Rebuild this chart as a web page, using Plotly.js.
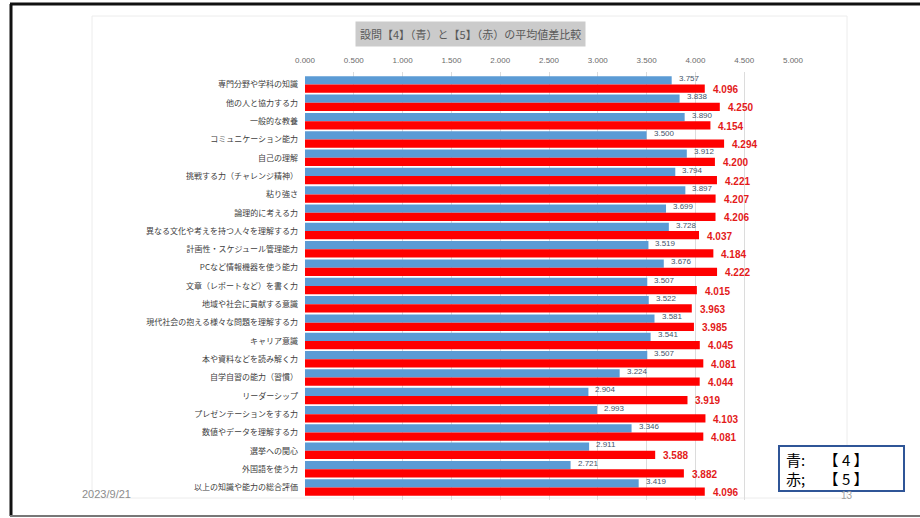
<!DOCTYPE html>
<html><head><meta charset="utf-8">
<script src="https://cdn.plot.ly/plotly-3.0.1.min.js"></script>
<style>html,body{margin:0;padding:0;background:#fff;}#c{width:920px;height:518px;}</style>
</head><body><div id="c"></div>
<script>
const categories = [
 "専門分野や学科の知識","他の人と協力する力","一般的な教養","コミュニケーション能力","自己の理解",
 "挑戦する力（チャレンジ精神）","粘り強さ","論理的に考える力","異なる文化や考えを持つ人々を理解する力",
 "計画性・スケジュール管理能力","PCなど情報機器を使う能力","文章（レポートなど）を書く力",
 "地域や社会に貢献する意識","現代社会の抱える様々な問題を理解する力","キャリア意識",
 "本や資料などを読み解く力","自学自習の能力（習慣）","リーダーシップ","プレゼンテーションをする力",
 "数値やデータを理解する力","選挙への関心","外国語を使う力","以上の知識や能力の総合評価"];
const blueQ4 = [3.757,3.838,3.890,3.500,3.912,3.794,3.897,3.699,3.728,3.519,3.676,3.507,3.522,3.581,3.541,3.507,3.224,2.904,2.993,3.346,2.911,2.721,3.419];
const redQ5  = [4.096,4.250,4.154,4.294,4.200,4.221,4.207,4.206,4.037,4.184,4.222,4.015,3.963,3.985,4.045,4.081,4.044,3.919,4.103,4.081,3.588,3.882,4.096];
const tickVals = [0,0.5,1,1.5,2,2.5,3,3.5,4,4.5,5];
const tickText = ["0.000","0.500","1.000","1.500","2.000","2.500","3.000","3.500","4.000","4.500","5.000"];
const chartTitle = "設問【4】（青）と【5】（赤）の平均値差比較";

const L=305,R=127,T=72,B=18,W=920,H=518;
const PW=W-L-R, PH=H-T-B;
const px=v=>(v-L)/PW, py=v=>1-(v-T)/PH;
const jp='"Noto Sans CJK JP","Noto Sans",sans-serif';

const traces = [
 {type:'bar',orientation:'h',name:'【4】',y:categories,x:blueQ4,marker:{color:'#5b9bd5'},hoverinfo:'x'},
 {type:'bar',orientation:'h',name:'【5】',y:categories,x:redQ5,marker:{color:'#ff0000'},hoverinfo:'x'}
];

const ann = [];
categories.forEach((c,i)=>{
  ann.push({x:blueQ4[i],y:c,xref:'x',yref:'y',text:blueQ4[i].toFixed(3),showarrow:false,xanchor:'left',yanchor:'middle',xshift:5,yshift:6,
    font:{family:'"Liberation Sans",sans-serif',size:8,color:'#44546a'}});
  ann.push({x:redQ5[i],y:c,xref:'x',yref:'y',text:'<b>'+redQ5[i].toFixed(3)+'</b>',showarrow:false,xanchor:'left',yanchor:'middle',xshift:6,yshift:-5,
    font:{family:'"Liberation Sans",sans-serif',size:10,color:'#e31a1a'}});
});
ann.push({xref:'paper',yref:'paper',x:px(470),y:py(34),yanchor:'middle',text:chartTitle,showarrow:false,
  bgcolor:'#cbcbcb',borderpad:4,font:{family:jp,size:11,color:'#595959'}});
ann.push({xref:'paper',yref:'paper',x:px(80),y:py(494),xanchor:'left',yanchor:'middle',text:'2023/9/21',showarrow:false,
  font:{family:'"Liberation Sans",sans-serif',size:11,color:'#8c8c8c'}});
ann.push({xref:'paper',yref:'paper',x:px(855),y:py(495),yanchor:'middle',text:'13',showarrow:false,
  font:{family:'"Liberation Sans",sans-serif',size:10,color:'#a0a0a0'}});
ann.push({xref:'paper',yref:'paper',x:px(784),y:py(459),xanchor:'left',yanchor:'middle',text:'青:　 【 4 】',showarrow:false,
  font:{family:jp,size:15,color:'#000'}});
ann.push({xref:'paper',yref:'paper',x:px(784),y:py(478),xanchor:'left',yanchor:'middle',text:'赤;　 【 5 】',showarrow:false,
  font:{family:jp,size:15,color:'#000'}});

const shapes = [
 {type:'rect',xref:'paper',yref:'paper',x0:px(92),x1:px(847),y0:py(498),y1:py(16),line:{color:'#ececec',width:1},fillcolor:'rgba(0,0,0,0)',layer:'below'},
 {type:'line',xref:'paper',yref:'paper',x0:px(10),x1:px(920),y0:py(4),y1:py(4),line:{color:'#111',width:3}},
 {type:'line',xref:'paper',yref:'paper',x0:px(11),x1:px(11),y0:py(4),y1:py(516),line:{color:'#111',width:3}},
 {type:'line',xref:'paper',yref:'paper',x0:px(10),x1:px(920),y0:py(516),y1:py(516),line:{color:'#777',width:2}},
 {type:'rect',xref:'paper',yref:'paper',x0:px(779),x1:px(904),y0:py(491),y1:py(446),line:{color:'#2f5597',width:2},fillcolor:'#fff'}
];

const layout = {
  width:W,height:H,margin:{l:L,r:R,t:T,b:B},
  paper_bgcolor:'#fff',plot_bgcolor:'#fff',
  showlegend:false,barmode:'group',bargap:0.1,bargroupgap:0,
  xaxis:{range:[0,5],side:'top',tickvals:tickVals,ticktext:tickText,showgrid:true,gridcolor:'#dcdcdc',gridwidth:1,
    zeroline:false,showline:false,ticks:'',ticklabelstandoff:6,
    tickfont:{family:'"Liberation Sans",sans-serif',size:8,color:'#6b6b6b'}},
  yaxis:{type:'category',autorange:'reversed',showgrid:false,zeroline:false,ticks:'',ticklabelstandoff:6,
    tickfont:{family:jp,size:8,color:'#404040'}},
  annotations:ann,shapes:shapes
};
Plotly.newPlot('c',traces,layout,{staticPlot:true});
</script></body></html>
